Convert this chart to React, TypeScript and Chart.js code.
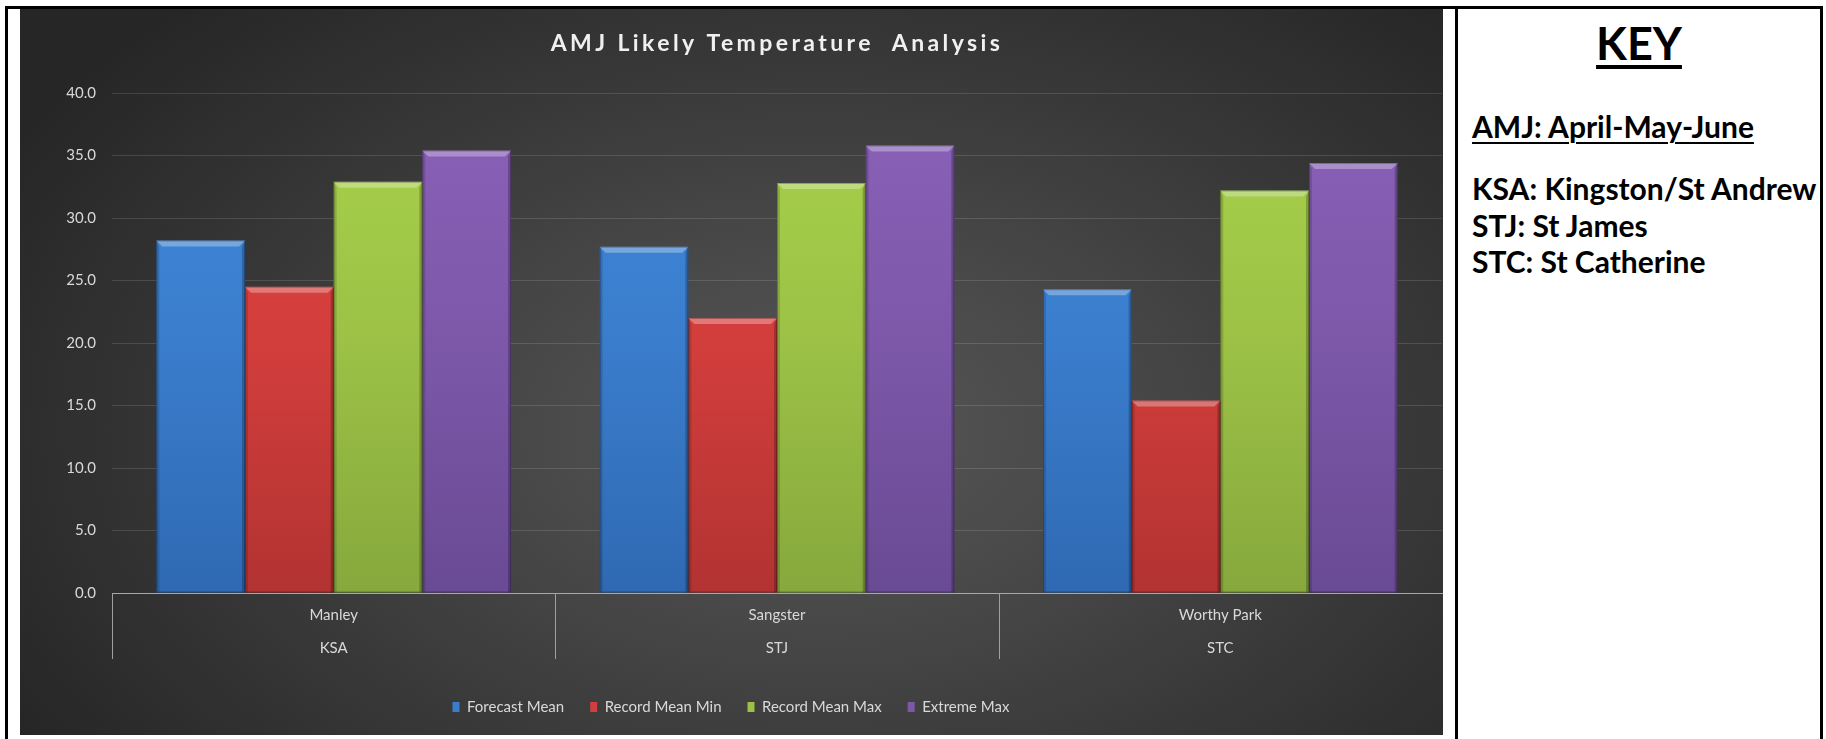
import React, { useEffect, useRef } from "react";
import { Chart, registerables } from "chart.js";
Chart.register(...registerables);

// ---------- data ----------
const categories: string[][] = [
  ["Manley", "KSA"],
  ["Sangster", "STJ"],
  ["Worthy Park", "STC"],
];
const seriesLabels = ["Forecast Mean", "Record Mean Min", "Record Mean Max", "Extreme Max"];
const forecastMean = [28.2, 27.7, 24.3];
const recordMeanMin = [24.5, 22.0, 15.4];
const recordMeanMax = [32.9, 32.8, 32.2];
const extremeMax = [35.4, 35.8, 34.4];
const yMin = 0;
const yMax = 40;
const yStep = 5;
const titleText = "AMJ Likely Temperature  Analysis";
const keyTitle = "KEY";
const keyHeading = "AMJ: April-May-June";
const keyLines = ["KSA: Kingston/St Andrew", "STJ: St James", "STC: St Catherine"];

// ---------- styles ----------
const seriesColors: [string, string, string][] = [
  ["#4189dc", "#3a7dcc", "#2f69b3"],
  ["#e04542", "#d23e3c", "#b23332"],
  ["#a8d24b", "#9cc146", "#86a83d"],
  ["#8a61b9", "#7d58a9", "#694a94"],
];
const FONT = "Lato";

function gradientFill(idx: number) {
  return (c: any) => {
    const chart = c.chart;
    const area = chart.chartArea;
    const [top, mid, bottom] = seriesColors[idx];
    if (!area) return mid;
    const g = chart.ctx.createLinearGradient(0, area.top, 0, area.bottom);
    g.addColorStop(0, top);
    g.addColorStop(0.5, mid);
    g.addColorStop(1, bottom);
    return g;
  };
}

const bevelPlugin = {
  id: "bevel",
  afterDatasetsDraw(chart: any) {
    const ctx = chart.ctx;
    chart.data.datasets.forEach((_ds: any, i: number) => {
      const meta = chart.getDatasetMeta(i);
      meta.data.forEach((el: any) => {
        const { x, y, base, width } = el.getProps(["x", "y", "base", "width"], true);
        const l = x - width / 2;
        const r = x + width / 2;
        const b = 6;
        const s = 3;
        ctx.save();
        ctx.fillStyle = "rgba(255,255,255,0.30)";
        ctx.beginPath();
        ctx.moveTo(l, y);
        ctx.lineTo(r, y);
        ctx.lineTo(r - b, y + b);
        ctx.lineTo(l + b, y + b);
        ctx.closePath();
        ctx.fill();
        ctx.fillStyle = "rgba(0,0,0,0.14)";
        ctx.beginPath();
        ctx.moveTo(l, y);
        ctx.lineTo(l + s, y + b);
        ctx.lineTo(l + s, base);
        ctx.lineTo(l, base);
        ctx.closePath();
        ctx.fill();
        ctx.fillStyle = "rgba(0,0,0,0.22)";
        ctx.beginPath();
        ctx.moveTo(r, y);
        ctx.lineTo(r - s, y + b);
        ctx.lineTo(r - s, base);
        ctx.lineTo(r, base);
        ctx.closePath();
        ctx.fill();
        ctx.strokeStyle = "rgba(0,0,0,0.25)";
        ctx.lineWidth = 1;
        ctx.strokeRect(l + 0.5, y + 0.5, width - 1, base - y - 1);
        ctx.restore();
      });
    });
  },
};

// vertical separators under the category axis, at category boundaries
const categoryDividerPlugin = {
  id: "categoryDividers",
  afterDraw(chart: any) {
    const sx = chart.scales.x;
    const n = chart.data.labels.length;
    const step = (sx.right - sx.left) / n;
    const ctx = chart.ctx;
    ctx.save();
    ctx.strokeStyle = "#a0a0a0";
    ctx.lineWidth = 1;
    for (let i = 0; i < n; i++) {
      const px = Math.round(sx.left + i * step) + 0.5;
      ctx.beginPath();
      ctx.moveTo(px, sx.top);
      ctx.lineTo(px, sx.top + 66);
      ctx.stroke();
    }
    ctx.restore();
  },
};

function ChartPanel() {
  const ref = useRef<HTMLCanvasElement | null>(null);
  useEffect(() => {
    if (!ref.current) return;
    const series = [forecastMean, recordMeanMin, recordMeanMax, extremeMax];
    const chart = new Chart(ref.current, {
      type: "bar",
      data: {
        labels: categories as any,
        datasets: series.map((d, i) => ({
          label: seriesLabels[i],
          data: d,
          backgroundColor: gradientFill(i) as any,
          borderWidth: 0,
          categoryPercentage: 0.8,
          barPercentage: 1.0,
        })),
      },
      plugins: [bevelPlugin, categoryDividerPlugin],
      options: {
        animation: false,
        responsive: true,
        maintainAspectRatio: false,
        layout: { padding: { left: 0, right: 1, top: 0, bottom: 10.5 } },
        plugins: {
          title: {
            display: true,
            fullSize: false,
            text: titleText,
            color: "#f0f0f0",
            font: { family: FONT, size: 23, weight: "bold" },
            padding: { top: 21, bottom: 35.4 },
          },
          legend: {
            display: true,
            position: "bottom",
            labels: {
              color: "#d9d9d9",
              font: { family: FONT, size: 15 },
              boxWidth: 7,
              boxHeight: 10,
              padding: 26,
              generateLabels: (chart: any) => {
                const items = (Chart.defaults.plugins.legend.labels as any).generateLabels(chart);
                return items.map((it: any, i: number) => ({
                  ...it,
                  fillStyle: seriesColors[i][1],
                  strokeStyle: "rgba(0,0,0,0)",
                  lineWidth: 0,
                }));
              },
            },
          },
          tooltip: { enabled: false },
        },
        scales: {
          x: {
            grid: {
              display: true,
              drawOnChartArea: false,
              drawTicks: false,
            },
            border: { display: true, color: "#a8a8a8", width: 1 },
            ticks: {
              color: "#d9d9d9",
              font: { family: FONT, size: 15, lineHeight: 2.2 },
              padding: 5.5,
              maxRotation: 0,
              autoSkip: false,
            },
            afterFit: (s: any) => {
              s.height = 80.5;
            },
          },
          y: {
            min: yMin,
            max: yMax,
            ticks: {
              stepSize: yStep,
              color: "#d9d9d9",
              font: { family: FONT, size: 15 },
              padding: 16,
              callback: (v: any) => Number(v).toFixed(1),
            },
            grid: { color: "rgba(255,255,255,0.13)", drawTicks: false },
            border: { display: false },
            afterFit: (s: any) => {
              s.width = 92;
            },
          },
        },
      } as any,
    });
    // spaced-out title lettering, as in the original
    const tb: any = (chart as any).titleBlock;
    if (tb) {
      const orig = tb.draw.bind(tb);
      tb.draw = (area: any) => {
        const ctx: any = chart.ctx;
        ctx.save();
        ctx.letterSpacing = "3.4px";
        orig(area);
        ctx.restore();
      };
      chart.draw();
    }
    return () => chart.destroy();
  }, []);
  return (
    <div
      style={{
        position: "absolute",
        left: 20,
        top: 9,
        width: 1423,
        height: 726,
        background:
          "radial-gradient(ellipse 65% 80% at 56% 58%, #575757 0%, #474747 35%, #353535 70%, #262626 100%)",
      }}
    >
      <canvas ref={ref} />
    </div>
  );
}

export default function App() {
  const black = "#000";
  return (
    <div
      style={{
        position: "absolute",
        left: 0,
        top: 0,
        width: 1826,
        height: 739,
        background: "#fff",
        overflow: "hidden",
        fontFamily: FONT,
      }}
    >
      <div style={{ position: "absolute", left: 5, top: 6, width: 1818, height: 3, background: black }} />
      <div style={{ position: "absolute", left: 5, top: 6, width: 3, height: 733, background: black }} />
      <div style={{ position: "absolute", left: 1455, top: 6, width: 3, height: 733, background: black }} />
      <div style={{ position: "absolute", left: 1820, top: 6, width: 3, height: 733, background: black }} />
      <ChartPanel />
      <div
        style={{
          position: "absolute",
          left: 1458,
          top: 15,
          width: 362,
          textAlign: "center",
          fontSize: 45,
          lineHeight: "56px",
          fontWeight: 700,
          color: black,
          textDecoration: "underline",
          textDecorationThickness: "4px",
          textUnderlineOffset: "5px",
        }}
      >
        {keyTitle}
      </div>
      <div
        style={{
          position: "absolute",
          left: 1472,
          top: 108,
          fontSize: 30,
          lineHeight: "36.5px",
          fontWeight: 700,
          color: black,
          whiteSpace: "nowrap",
          textDecoration: "underline",
          textDecorationThickness: "2px",
          textUnderlineOffset: "4px",
        }}
      >
        {keyHeading}
      </div>
      <div
        style={{
          position: "absolute",
          left: 1472,
          top: 170,
          fontSize: 30,
          lineHeight: "36.5px",
          fontWeight: 700,
          color: black,
          whiteSpace: "nowrap",
        }}
      >
        {keyLines.map((t) => (
          <div key={t}>{t}</div>
        ))}
      </div>
    </div>
  );
}
